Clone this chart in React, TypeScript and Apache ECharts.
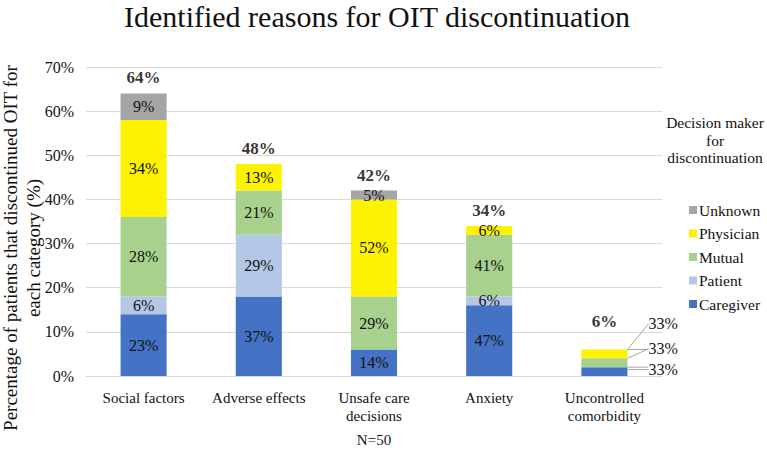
import React, { useEffect, useRef } from "react";
import * as echarts from "echarts";

const categories = [
  "Social factors",
  "Adverse effects",
  "Unsafe care\ndecisions",
  "Anxiety",
  "Uncontrolled\ncomorbidity",
];

// absolute height of each segment (% of patients)
const caregiver = [14, 18, 6, 16, 2];
const patient = [4, 14, 0, 2, 0];
const mutual = [18, 10, 12, 14, 2];
const physician = [22, 6, 22, 2, 2];
const unknown = [6, 0, 2, 0, 0];

// share label shown inside each segment (% within category)
const caregiverShare = [23, 37, 14, 47, 33];
const patientShare = [6, 29, null, 6, null];
const mutualShare = [28, 21, 29, 41, 33];
const physicianShare = [34, 13, 52, 6, 33];
const unknownShare = [9, null, 5, null, null];

const totals = [64, 48, 42, 34, 6];
const yTicks = [0, 10, 20, 30, 40, 50, 60, 70];

const FONT = "Liberation Serif, Times New Roman, serif";
const TXT = "#111111";

export default function App() {
  const ref = useRef<HTMLDivElement>(null);

  useEffect(() => {
    document.body.style.margin = "0";
    const chart = echarts.init(ref.current!, null, { renderer: "svg" });

    const seriesDefs = [
      { name: "Caregiver", data: caregiver, share: caregiverShare, color: "#4472C4", dy: -2 },
      { name: "Patient", data: patient, share: patientShare, color: "#B4C7E7", dy: 0 },
      { name: "Mutual", data: mutual, share: mutualShare, color: "#A9D18E", dy: -14 },
      { name: "Physician", data: physician, share: physicianShare, color: "#FFF200", dy: -30 },
      { name: "Unknown", data: unknown, share: unknownShare, color: "#A5A5A5", dy: 0 },
    ];

    const barSeries = seriesDefs.map((s) => ({
      name: s.name,
      type: "bar",
      stack: "total",
      barWidth: "40%",
      itemStyle: { color: s.color },
      data: s.data,
      labelLine: { show: true, lineStyle: { color: "#a6a6a6", width: 1 } },
      label: {
        show: true,
        position: "inside",
        fontFamily: FONT,
        fontSize: 16,
        color: TXT,
        formatter: (p: any) => {
          const sh = s.share[p.dataIndex];
          return sh == null || s.data[p.dataIndex] === 0 ? "" : sh + "%";
        },
      },
      labelLayout: (p: any) => {
        if (p.dataIndex !== 4) return {};
        const r = p.rect;
        return {
          x: r.x + r.width + 21,
          y: r.y + r.height / 2 + s.dy,
          align: "left",
          verticalAlign: "middle",
        };
      },
    }));

    const option: any = {
      animation: false,
      textStyle: { fontFamily: FONT },
      title: {
        text: "Identified reasons for OIT discontinuation",
        left: 372,
        textAlign: "center",
        top: 0,
        padding: [1, 5, 5, 5],
        textStyle: { fontFamily: FONT, fontSize: 30, fontWeight: "normal", color: TXT },
      },
      grid: { left: 86, right: 105, top: 67, bottom: 72 },
      legend: {
        orient: "vertical",
        left: 684,
        top: 197,
        itemWidth: 8,
        itemHeight: 8,
        itemGap: 7.5,
        icon: "rect",
        data: ["Unknown", "Physician", "Mutual", "Patient", "Caregiver"],
        textStyle: { fontFamily: FONT, fontSize: 15.5, color: TXT, lineHeight: 16, padding: [0, 0, 0, -3] },
      },
      xAxis: {
        type: "category",
        data: categories,
        name: "N=50",
        nameLocation: "middle",
        nameGap: 56,
        nameTextStyle: { fontFamily: FONT, fontSize: 15, color: TXT },
        axisLine: { lineStyle: { color: "#d9d9d9" } },
        axisTick: { show: false },
        axisLabel: { fontFamily: FONT, fontSize: 15, color: TXT, margin: 13, lineHeight: 18, interval: 0 },
      },
      yAxis: {
        type: "value",
        min: yTicks[0],
        max: yTicks[yTicks.length - 1],
        interval: 10,
        axisLine: { show: false },
        axisTick: { show: false },
        splitLine: { lineStyle: { color: "#d9d9d9" } },
        axisLabel: { fontFamily: FONT, fontSize: 16, color: TXT, margin: 12, formatter: "{value}%" },
      },
      graphic: [
        {
          type: "text",
          x: 22,
          y: 248,
          rotation: Math.PI / 2,
          style: {
            text: "Percentage of patients that discontinued OIT for\neach category (%)",
            fontFamily: FONT,
            fontSize: 19,
            lineHeight: 23,
            fill: TXT,
            textAlign: "center",
            textVerticalAlign: "middle",
          },
        },
        {
          type: "text",
          x: 715,
          y: 140,
          style: {
            text: "Decision maker\nfor\ndiscontinuation",
            fontFamily: FONT,
            fontSize: 15.5,
            lineHeight: 17.5,
            fill: TXT,
            textAlign: "center",
            textVerticalAlign: "middle",
          },
        },
      ],
      series: [
        ...barSeries,
        {
          name: "Total",
          type: "scatter",
          symbolSize: 0,
          silent: true,
          data: totals.map((v, i) => ({ value: v, label: { distance: i === 4 ? 20 : 7 } })),
          label: {
            show: true,
            position: "top",
            fontFamily: FONT,
            fontSize: 17,
            fontWeight: "bold",
            color: "#000",
            formatter: (p: any) => totals[p.dataIndex] + "%",
          },
        },
      ],
    };

    chart.setOption(option);
    return () => chart.dispose();
  }, []);

  return <div ref={ref} style={{ width: 767, height: 452 }} />;
}
